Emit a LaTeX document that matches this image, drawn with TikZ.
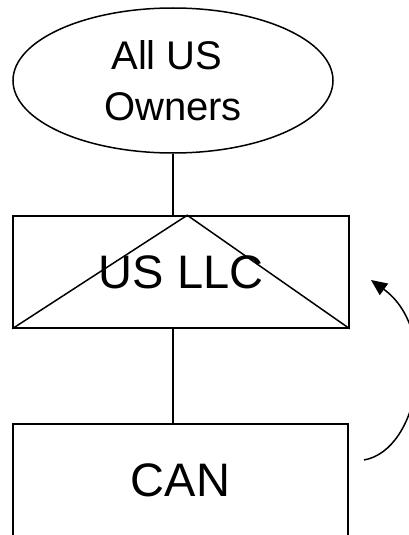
\documentclass[tikz,border=0pt]{standalone}
\usepackage{fontspec}
\setmainfont{Liberation Sans}
\usetikzlibrary{shapes.geometric,arrows.meta,calc}
\begin{document}
\begin{tikzpicture}[x=1pt,y=-1pt,
  entity/.style={draw,line width=1.5pt,rectangle,minimum width=336pt,minimum height=112pt,
    inner sep=0pt,font=\fontsize{47}{56}\selectfont},
  owner/.style={draw,line width=1.5pt,ellipse,minimum width=320pt,minimum height=145pt,
    inner sep=0pt,align=center,font=\fontsize{40}{51}\selectfont},
  link/.style={draw,line width=1.5pt},
  flow/.style={draw,line width=1.5pt,-{Triangle[length=16pt,width=14pt]}}]
  \useasboundingbox (0,0) rectangle (409,535);
  \clip (0,0) rectangle (409,535);

  % ownership chain
  \node[owner] (owners) at (173,80.5) {All US\kern12pt\\Owners};
  \node[entity] (llc) at (181,272) {US LLC};
  \node[entity,minimum width=335pt] (can) at (180.5,480) {CAN};

  % disregarded-entity mark on the LLC
  \coordinate (apex) at ($(llc.north west)+(175,0)$);
  \draw[link] (llc.south west) -- (apex) -- (llc.south east);

  % vertical links
  \draw[link] (owners.south) -- (owners.south |- llc.north);
  \draw[link] (owners.south |- llc.south) -- (owners.south |- can.north);

  % curved arrow from CAN back up to the LLC
  \coordinate (from) at (364,460);
  \coordinate (to) at (371,280);
  \draw[flow] (from) .. controls (420,450) and (440,330) .. (to);
\end{tikzpicture}
\end{document}
